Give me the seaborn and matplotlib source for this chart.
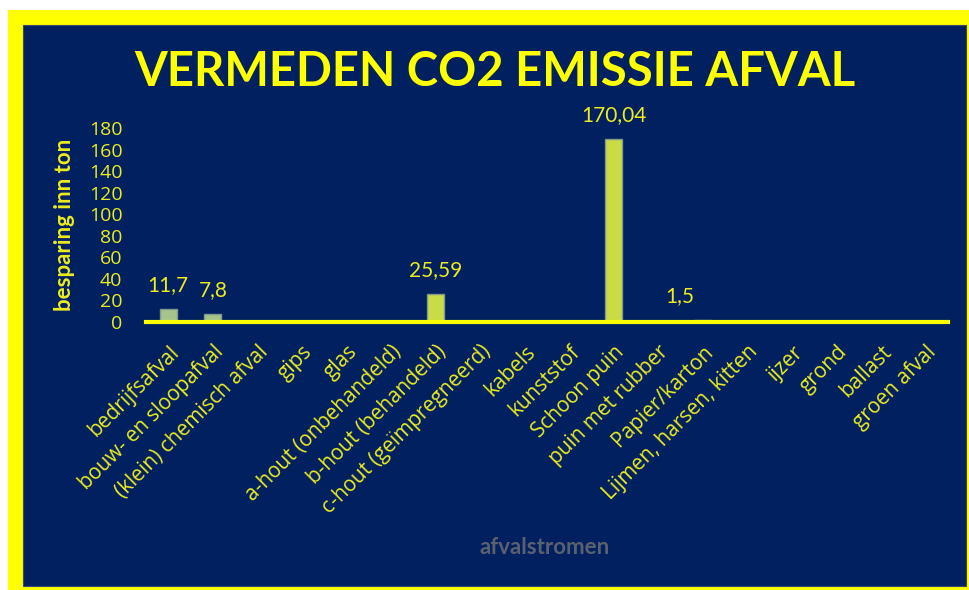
import seaborn as sns
import matplotlib.pyplot as plt
import pandas as pd
from matplotlib.patches import Rectangle

categories = ["bedrijfsafval", "bouw- en sloopafval", "(klein) chemisch afval", "gips", "glas",
              "a-hout (onbehandeld)", "b-hout (behandeld)", "c-hout (geïmpregneerd)", "kabels",
              "kunststof", "Schoon puin", "puin met rubber", "Papier/karton",
              "Lijmen, harsen, kitten", "ijzer", "grond", "ballast", "groen afval"]
values = [11.7, 7.8, 0, 0, 0, 0, 25.59, 0, 0, 0, 170.04, 0, 1.5, 0, 0, 0, 0, 0]
value_labels = ["11,7", "7,8", "", "", "", "", "25,59", "", "", "", "170,04", "", "1,5",
                "", "", "", "", ""]
yticks = [0, 20, 40, 60, 80, 100, 120, 140, 160, 180]
title = "VERMEDEN CO2 EMISSIE AFVAL"
ylabel = "besparing inn ton"
xlabel = "afvalstromen"

sns.set_theme(style="white")
plt.rcParams['font.family'] = ['Lato', 'DejaVu Sans']
TICKFONT = ['Open Sans', 'DejaVu Sans']

W, H = 970, 590
NAVY = "#002060"
YEL = "#FFFF00"
TXT = "#ecec1e"

fig = plt.figure(figsize=(W / 100, H / 100), dpi=100, facecolor="white")
fig.patches.append(Rectangle((8 / W, 0), (W - 8) / W, (H - 10) / H,
                             transform=fig.transFigure, facecolor=YEL, edgecolor="none", zorder=-3))
fig.patches.append(Rectangle((23 / W, 4 / H), (966 - 23) / W, (586 - 25) / H,
                             transform=fig.transFigure, facecolor=NAVY, edgecolor="#3a4a6a",
                             linewidth=0.8, zorder=-2))

ax = fig.add_axes([146 / W, 268 / H, (948 - 146) / W, (462 - 268) / H])
ax.set_facecolor("none")

df = pd.DataFrame({"cat": categories, "val": values})
bar_colors = ["#a6c48c", "#a6c48c"] + ["#c9dc45"] * (len(categories) - 2)
sns.barplot(data=df, x="cat", y="val", hue="cat", palette=bar_colors, legend=False,
            ax=ax, width=0.38, edgecolor="#7f9a8a", linewidth=1, saturation=1)

ax.set_xlim(-0.5, len(categories) - 0.5)
ax.set_ylim(0, 180)
ax.set_yticks(yticks)
ax.set_yticklabels([str(t) for t in yticks], fontsize=14, color=TXT, family=TICKFONT)
ax.set_xticks(range(len(categories)))
ax.set_xticklabels(categories, rotation=45, ha="right", rotation_mode="anchor",
                   fontsize=15, color=TXT, family=TICKFONT)
ax.tick_params(axis="both", length=0)
ax.tick_params(axis="x", pad=14)
ax.tick_params(axis="y", pad=17)
ax.set_xlabel("")
ax.set_ylabel("")
for s in ["left", "top", "right"]:
    ax.spines[s].set_visible(False)
ax.spines["bottom"].set_color(YEL)
ax.spines["bottom"].set_linewidth(3)
ax.spines["bottom"].set_zorder(5)

for i, (v, lab) in enumerate(zip(values, value_labels)):
    if lab:
        dx = -17 if lab == "1,5" else 0
        ax.annotate(lab, (i, v), xytext=(dx, 10), textcoords="offset points",
                    ha="center", va="bottom", fontsize=15, color=TXT, annotation_clip=False)

fig.text(495 / W, 1 - 72 / H, title, ha="center", va="center", fontsize=34,
         fontweight="bold", color=YEL)
fig.text(65 / W, 1 - 225 / H, ylabel, ha="center", va="center", rotation=90,
         fontsize=16, fontweight="bold", color=TXT)
fig.text(545 / W, 1 - 548 / H, xlabel, ha="center", va="center", fontsize=16,
         fontweight="bold", color="#5b6070")

fig.savefig("out.png", dpi=100, facecolor="white")
